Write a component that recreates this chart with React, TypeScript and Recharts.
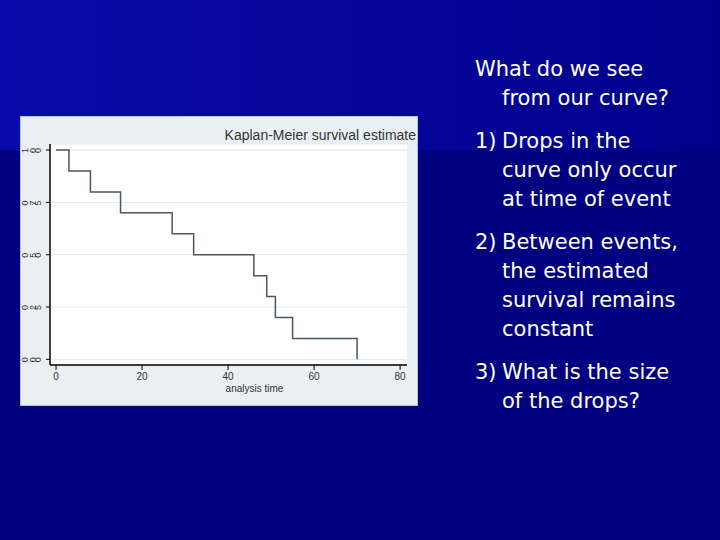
import React from 'react';
import { LineChart, Line, XAxis, YAxis, CartesianGrid } from 'recharts';

// Kaplan-Meier estimate: time of each event and survival after it
const times = [0, 3, 8, 15, 27, 32, 46, 49, 51, 55, 70];
const survival = [1, 0.9, 0.8, 0.7, 0.6, 0.5, 0.4, 0.3, 0.2, 0.1, 0];
const xTicks = [0, 20, 40, 60, 80];
const yTicks = [0, 0.25, 0.5, 0.75, 1];

const data = times.map((t, i) => ({ t, s: survival[i] }));

const FONT = '"DejaVu Sans", Verdana, Tahoma, sans-serif';
const CHART_FONT = '"Liberation Sans", Arial, sans-serif';

function YTick(props: any) {
  const { x, y, payload } = props;
  return (
    <text x={x} y={y} dy={3} textAnchor="end" fontSize={9} fill="#333"
      fontFamily={CHART_FONT} rotate="-90">
      {payload.value.toFixed(2)}
    </text>
  );
}

function AxisTitle(props: any) {
  const { viewBox } = props;
  if (!viewBox) return null;
  return (
    <text x={viewBox.x + viewBox.width / 2 + 26} y={viewBox.y + 27} textAnchor="middle"
      fontSize={10} fill="#333" fontFamily={CHART_FONT}>
      analysis time
    </text>
  );
}

const points = [
  { n: null, lines: ['What do we see', 'from our curve?'] },
  { n: '1)', lines: ['Drops in the', 'curve only occur', 'at time of event'] },
  { n: '2)', lines: ['Between events,', 'the estimated', 'survival remains', 'constant'] },
  { n: '3)', lines: ['What is the size', 'of the drops?'] },
];

export default function App() {
  return (
    <div style={{
      position: 'absolute', left: 0, top: 0, width: 720, height: 540, overflow: 'hidden',
      background: '#000080',
    }}>
      <div style={{
        position: 'absolute', left: 0, top: 0, width: 720, height: 150,
        background: 'linear-gradient(to right, #0a0aa8, #00008c)',
      }} />

      <div style={{
        position: 'absolute', left: 20, top: 116, width: 398, height: 290,
        background: '#e9eff3', outline: '1px solid #b8c4d4', outlineOffset: -1,
      }}>
        <div style={{
          position: 'absolute', right: 2, top: 11, fontSize: 14, lineHeight: '16px',
          fontFamily: CHART_FONT, color: '#333', whiteSpace: 'nowrap',
        }}>
          Kaplan-Meier survival estimate
        </div>
        <LineChart width={398} height={290} data={data}
          margin={{ top: 28, right: 11, left: 0, bottom: 0 }}>
          <CartesianGrid vertical={false} stroke="#e2e8ed" fill="#ffffff" />
          <XAxis
            dataKey="t" type="number" domain={[-1.4, 81.6]} ticks={xTicks}
            height={41} tickSize={5} tickMargin={3}
            tick={{ fontSize: 10, fill: '#333', fontFamily: CHART_FONT }}
            axisLine={{ stroke: '#000', strokeWidth: 1.5 }}
            tickLine={{ stroke: '#000' }}
            label={<AxisTitle />}
          />
          <YAxis
            dataKey="s" type="number" domain={[-0.027, 1.029]} ticks={yTicks}
            width={30} tickSize={4} tickMargin={0}
            tick={<YTick />}
            axisLine={{ stroke: '#000', strokeWidth: 1.5 }}
            tickLine={{ stroke: '#000' }}
          />
          <Line type="stepAfter" dataKey="s" stroke="#4a5764" strokeWidth={1.5}
            dot={false} isAnimationActive={false} />
        </LineChart>
      </div>

      <div style={{
        position: 'absolute', left: 475, top: 55, width: 240,
        fontFamily: FONT, fontSize: 21, lineHeight: '29px', color: '#fff',
      }}>
        {points.map((p, i) => (
          <div key={i} style={{ display: 'flex', marginBottom: 14 }}>
            {p.n ? (
              <span style={{ width: 27, flex: 'none' }}>{p.n}</span>
            ) : null}
            <div>
              {p.lines.map((l, j) => (
                <div key={j} style={{ whiteSpace: 'nowrap', marginLeft: !p.n && j > 0 ? 27 : 0 }}>{l}</div>
              ))}
            </div>
          </div>
        ))}
      </div>
    </div>
  );
}
